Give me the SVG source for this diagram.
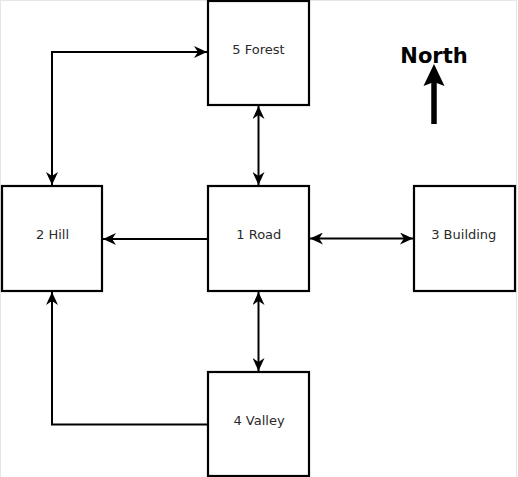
<svg xmlns="http://www.w3.org/2000/svg" width="518" height="477" viewBox="0 0 518 477">
<style>
.box{fill:#fff;stroke:#000;stroke-width:2.2}
.lbl{font-family:"DejaVu Sans",sans-serif;font-size:13px;fill:#2a2a2a;text-anchor:middle}
.edge{fill:none;stroke:#000;stroke-width:2}
</style>
<defs>
<marker id="ah" viewBox="0 0 10 10" refX="10" refY="5" markerWidth="13" markerHeight="12" markerUnits="userSpaceOnUse" orient="auto-start-reverse" preserveAspectRatio="none">
<path d="M0,0 L10,5 L0,10 L3,5 z" fill="#000"/>
</marker>
</defs>
<rect width="518" height="477" fill="#fff"/>
<rect x="0.5" y="0.5" width="516" height="478" fill="none" stroke="#e6e6e6" stroke-width="1"/>
<g id="connectors">
<path class="edge" d="M52,185 V52 H207" marker-start="url(#ah)" marker-end="url(#ah)"/>
<path class="edge" d="M258.5,106 V185" marker-start="url(#ah)" marker-end="url(#ah)"/>
<path class="edge" d="M207,239 H103" marker-end="url(#ah)"/>
<path class="edge" d="M310,238.5 H413" marker-start="url(#ah)" marker-end="url(#ah)"/>
<path class="edge" d="M258.5,292 V371" marker-start="url(#ah)" marker-end="url(#ah)"/>
<path class="edge" d="M207,424.5 H52 V292" marker-end="url(#ah)"/>
</g>
<g id="n5"><rect class="box" x="208" y="1" width="101" height="104"/><text class="lbl" x="258.5" y="53.5">5 Forest</text></g>
<g id="n1"><rect class="box" x="208" y="186" width="101" height="105"/><text class="lbl" x="258.8" y="239.3">1 Road</text></g>
<g id="n2"><rect class="box" x="2" y="186" width="100" height="105"/><text class="lbl" x="52.5" y="238.8">2 Hill</text></g>
<g id="n3"><rect class="box" x="414" y="186" width="101" height="105"/><text class="lbl" x="463.8" y="239">3 Building</text></g>
<g id="n4"><rect class="box" x="208" y="372" width="101" height="104"/><text class="lbl" x="259" y="425">4 Valley</text></g>
<g id="north">
<text x="434" y="62.5" font-family="DejaVu Sans,sans-serif" font-weight="bold" font-size="21" text-anchor="middle" fill="#000">North</text>
<line x1="434" y1="124" x2="434" y2="80" stroke="#000" stroke-width="5.5"/>
<path d="M434,64 L444.5,86 L434,82 L423.5,86 z" fill="#000"/>
</g>
</svg>
